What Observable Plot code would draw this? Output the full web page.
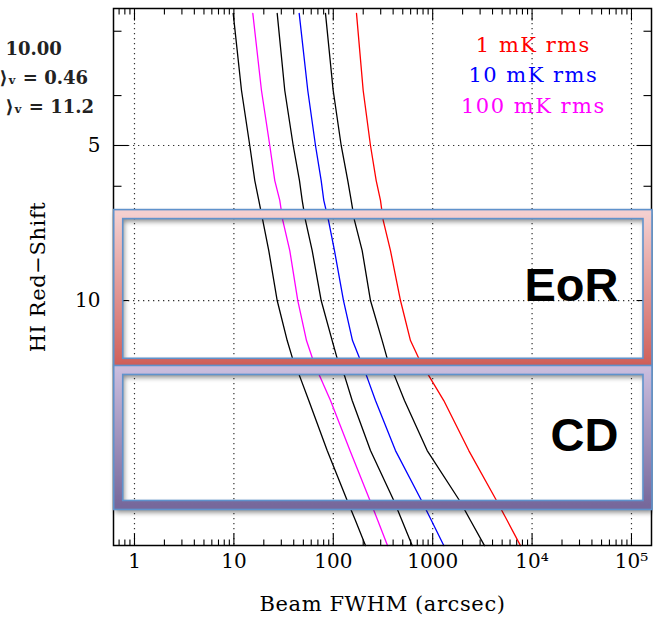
<!DOCTYPE html>
<html>
<head>
<meta charset="utf-8">
<script src="https://cdn.jsdelivr.net/npm/d3@7"></script>
<script src="https://cdn.jsdelivr.net/npm/@observablehq/plot@0.6"></script>
<style>
  html, body { margin: 0; padding: 0; background: #ffffff; }
  #chart svg { display: block; }
</style>
</head>
<body>
<div id="chart"></div>
<script>
// ---- data ----
const redshift = [2.77, 3.91, 5, 5.85, 6.39, 6.99, 8.0, 10, 11.96, 13.08, 13.99, 15.64, 19.56, 24.45, 26.74, 29.91];
const fwhmBlackA = [9.84, 11.93, 14.45, 16.23, 17.81, 19.53, 22.44, 27.27, 34.38, 39.51, 45.70, 56.69, 86.82, 138.0, 167.2, 210.8];
const fwhmMagenta = [15.50, 18.95, 22.97, 25.79, 28.95, 31.04, 36.51, 43.95, 53.75, 62.79, 72.64, 93.73, 147.2, 234.0, 280.4, 351.0];
const fwhmBlackB = [27.27, 32.51, 39.51, 45.70, 48.66, 52.52, 61.35, 75.55, 97.48, 111.0, 129.7, 154.9, 236.7, 406.1, 491.0, 622.0];
const fwhmBlue = [45.39, 55.39, 66.22, 75.55, 80.25, 89.48, 102.8, 126.7, 156.1, 187.8, 215.8, 265.8, 422.4, 771.5, 972.0, 1293];
const fwhmBlackC = [83.47, 99.77, 120.1, 139.9, 151.4, 163.4, 195.3, 236.7, 310.4, 353.5, 412.8, 520.3, 880.4, 1861, 2401, 3320];
const fwhmRed = [171.2, 199.9, 236.7, 270.2, 298.4, 317.8, 376.2, 474.3, 597.9, 741.8, 913.6, 1293, 2308, 4384, 5618, 7643];

const seriesValues = [fwhmBlackA, fwhmMagenta, fwhmBlackB, fwhmBlue, fwhmBlackC, fwhmRed];
const seriesColors = ["#000000", "#ff00ff", "#000000", "#0000ff", "#000000", "#ff0000"];

const xMajorTicks = [1, 10, 100, 1000, 1e4, 1e5];
const xTickLabels = ["1", "10", "100", "1000", "10\u2074", "10\u2075"];
const yMajorTicks = [5, 10];
const yTickLabels = ["5", "10"];
const yMinorTicks = [3, 4, 6, 7, 8, 9, 20];
const xDomain = [0.615, 1.59e5];
const yDomain = [2.71, 29.9];

const legendLabels = ["1 mK rms", "10 mK rms", "100 mK rms"];
const legendColors = ["#ff0000", "#0000ff", "#ff00ff"];
const legendZ = [3.2, 3.66, 4.2];
const legendX = 1.03e4;

const regionNames = ["EoR", "CD"];
const regionZ1 = [6.81, 13.67];
const regionZ2 = [13.24, 25.0];
const regionX1 = 0.694;
const regionX2 = 1.466e5;
const regionLabelZ = [9.37, 18.3];
const regionLabelX = 7.4e4;
const regionTop = [["#f4cfcf", "#d0615b"], ["#c9bcdd", "#77689b"]];

const cornerTexts = ["10.00", "\u27E9\u1D65 = 0.46", "\u27E9\u1D65 = 11.2"];

const xTitle = "Beam FWHM (arcsec)";
const yTitle = "HI Red\u2212Shift";

// ---- helpers ----
const xMinorTicks = [];
for (const dec of [0.1, 1, 10, 100, 1000, 1e4, 1e5]) {
  for (let m = 2; m <= 9; m++) {
    const v = m * dec;
    if (v > xDomain[0] && v < xDomain[1]) xMinorTicks.push(v);
  }
}
const tickSym = (dx, dy) => ({draw(ctx) { ctx.moveTo(0, 0); ctx.lineTo(dx, dy); }});
const serif = "DejaVu Serif";
const tickStyle = {stroke: "#000", fill: "none", strokeWidth: 1.1};

const marks = [];
// grid
marks.push(Plot.ruleX(xMajorTicks, {x: d => d, stroke: "#333", strokeWidth: 1.2, strokeDasharray: "1.3,3.7"}));
marks.push(Plot.ruleY(yMajorTicks, {y: d => d, stroke: "#333", strokeWidth: 1.2, strokeDasharray: "1.3,3.7"}));
// ticks (inward on all four sides)
marks.push(Plot.dot(xMinorTicks, {x: d => d, frameAnchor: "bottom", symbol: tickSym(0, -6), ...tickStyle}));
marks.push(Plot.dot(xMinorTicks, {x: d => d, frameAnchor: "top", symbol: tickSym(0, 6), ...tickStyle}));
marks.push(Plot.dot(xMajorTicks, {x: d => d, frameAnchor: "bottom", symbol: tickSym(0, -12), ...tickStyle}));
marks.push(Plot.dot(xMajorTicks, {x: d => d, frameAnchor: "top", symbol: tickSym(0, 12), ...tickStyle}));
marks.push(Plot.dot(yMinorTicks, {y: d => d, frameAnchor: "left", symbol: tickSym(8, 0), ...tickStyle}));
marks.push(Plot.dot(yMinorTicks, {y: d => d, frameAnchor: "right", symbol: tickSym(-8, 0), ...tickStyle}));
marks.push(Plot.dot(yMajorTicks, {y: d => d, frameAnchor: "left", symbol: tickSym(15, 0), ...tickStyle}));
marks.push(Plot.dot(yMajorTicks, {y: d => d, frameAnchor: "right", symbol: tickSym(-15, 0), ...tickStyle}));
// curves
seriesValues.forEach((vals, s) => {
  marks.push(Plot.line(redshift.map((z, i) => ({z, w: vals[i]})), {
    x: "w", y: "z", stroke: seriesColors[s], strokeWidth: 1.3
  }));
});
marks.push(Plot.frame({stroke: "#000", strokeWidth: 1.5}));
// region boxes
regionNames.forEach((name, r) => {
  const box = {x1: () => regionX1, x2: () => regionX2, y1: () => regionZ1[r], y2: () => regionZ2[r], fill: "none"};
  marks.push(Plot.rect([r], {...box, stroke: `url(#regionGrad${r})`, strokeWidth: 9, ariaDescription: "shadowed"}));
  marks.push(Plot.rect([r], {...box, stroke: "#5f92cc", strokeWidth: 1.6, inset: -4.5}));
  marks.push(Plot.rect([r], {...box, stroke: "#5f92cc", strokeWidth: 1.6, inset: 4.5}));
});
marks.push(Plot.text(regionNames, {
  x: () => regionLabelX, y: (d, i) => regionLabelZ[i], text: d => d, textAnchor: "end",
  fontFamily: "Liberation Sans", fontWeight: "bold", fontSize: 47, fill: "#000"
}));
// legend
marks.push(Plot.text(legendLabels, {
  x: () => legendX, y: (d, i) => legendZ[i], text: d => d, fill: (d, i) => legendColors[i],
  fontFamily: serif, fontSize: 21, ariaDescription: "legend"
}));
// tick labels
marks.push(Plot.text(xMajorTicks, {
  x: d => d, text: (d, i) => xTickLabels[i], frameAnchor: "bottom", dy: 22, textAnchor: "middle",
  fontFamily: serif, fontSize: 20, fill: "#000"
}));
marks.push(Plot.text(yMajorTicks, {
  y: d => d, text: (d, i) => yTickLabels[i], frameAnchor: "left", dx: -13, textAnchor: "end",
  fontFamily: serif, fontSize: 20, fill: "#000"
}));
// axis titles
marks.push(Plot.text([xTitle], {
  text: d => d, frameAnchor: "bottom", dy: 65, lineAnchor: "bottom", textAnchor: "middle",
  fontFamily: serif, fontSize: 21, fill: "#000", ariaDescription: "title"
}));
marks.push(Plot.text([yTitle], {
  text: d => d, frameAnchor: "left", dx: -75.5, rotate: -90, textAnchor: "middle",
  fontFamily: serif, fontSize: 21, fill: "#000", ariaDescription: "title"
}));
// clipped annotation texts at the top left
const cornerDx = [-108, -114, -108];
const cornerDy = [46, 75, 104];
cornerTexts.forEach((t, i) => {
  marks.push(Plot.text([t], {
    text: d => d, frameAnchor: "top-left", dx: cornerDx[i], dy: cornerDy[i], textAnchor: "start",
    lineAnchor: "bottom", fontFamily: serif, fontWeight: "bold", fontSize: 18, fill: "#222"
  }));
});

const svg = Plot.plot({
  width: 653,
  height: 617,
  marginLeft: 113,
  marginRight: 2,
  marginTop: 8,
  marginBottom: 72,
  style: {background: "#ffffff", overflow: "hidden"},
  x: {type: "log", domain: xDomain, axis: null},
  y: {type: "log", domain: yDomain, reverse: true, axis: null},
  marks
});

// gradients and shadow
const sel = d3.select(svg);
const defs = sel.insert("defs", ":first-child");
regionTop.forEach((cols, r) => {
  const g = defs.append("linearGradient").attr("id", `regionGrad${r}`)
    .attr("x1", 0).attr("y1", 0).attr("x2", 0).attr("y2", 1);
  g.append("stop").attr("offset", "0%").attr("stop-color", cols[0]);
  g.append("stop").attr("offset", "100%").attr("stop-color", cols[1]);
});
const f = defs.append("filter").attr("id", "boxShadow")
  .attr("x", "-5%").attr("y", "-10%").attr("width", "115%").attr("height", "130%");
f.append("feDropShadow").attr("dx", 1.5).attr("dy", 3).attr("stdDeviation", 2.5)
  .attr("flood-color", "#000").attr("flood-opacity", 0.45);
let shadowed = sel.selectAll('g[aria-description="shadowed"]');
if (shadowed.empty()) {
  shadowed = sel.selectAll('g[aria-label="rect"]').filter((d, i) => i % 3 === 0);
}
shadowed.attr("filter", "url(#boxShadow)");
sel.selectAll('g[aria-description="legend"] text').style("letter-spacing", "1.5px");
sel.selectAll('g[aria-description="title"] text').style("letter-spacing", "0.6px");

document.getElementById("chart").appendChild(svg);
</script>
</body>
</html>
